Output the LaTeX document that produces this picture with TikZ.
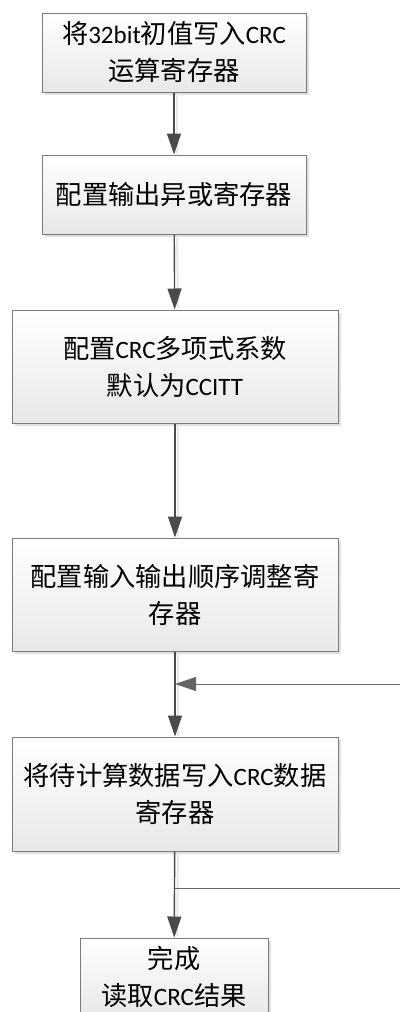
\documentclass[tikz,border=0pt]{standalone}
\usepackage{fontspec}
\setmainfont{Carlito}
\newfontfamily\cjk[Scale=1.05]{Noto Sans CJK SC}
\usetikzlibrary{arrows.meta,shadows}
\definecolor{boxline}{HTML}{7A7A7A}
\definecolor{conn}{HTML}{4A4A4A}
\definecolor{boxbot}{HTML}{E8E8E8}
\tikzset{
  flowbox/.style={draw=boxline, line width=1pt, top color=white, bottom color=boxbot,
    align=center, inner sep=0pt, font=\fontsize{25}{37}\selectfont,
    drop shadow={shadow xshift=3pt, shadow yshift=-3pt, fill=black!12, opacity=1}},
  conline/.style={draw=conn, line width=1.4pt},
  thinline/.style={draw=conn!85, line width=0.9pt},
  arr/.style={-{Triangle[length=21pt,width=14pt]}},
  shline/.style={draw=black!9, line width=2pt},
}
\begin{document}
\begin{tikzpicture}[x=1pt,y=-1pt]
\useasboundingbox (0,0) rectangle (400,1012);
\clip (0,0) rectangle (400,1012);
\node[flowbox, minimum width=264pt, minimum height=79pt] (b1) at (174,52.5)
  {{\cjk 将}32bit{\cjk 初值写入}CRC\\{\cjk 运算寄存器}};
\node[flowbox, minimum width=264pt, minimum height=79pt] (b2) at (174,194.5)
  {{\cjk 配置输出异或寄存器}};
\node[flowbox, minimum width=326pt, minimum height=113pt] (b3) at (175,366.5)
  {{\cjk 配置}CRC{\cjk 多项式系数}\\{\cjk 默认为}CCITT};
\node[flowbox, minimum width=326pt, minimum height=113pt] (b4) at (175,594.5)
  {{\cjk 配置输入输出顺序调整寄}\\{\cjk 存器}};
\node[flowbox, minimum width=326pt, minimum height=114pt] (b5) at (175,794)
  {{\cjk 将待计算数据写入}CRC{\cjk 数据}\\{\cjk 寄存器}};
\node[flowbox, minimum width=188pt, minimum height=78pt] (b6) at (174,977)
  {{\cjk 完成}\\{\cjk 读取}CRC{\cjk 结果}};
\coordinate (j1) at (b4.south |- 0,684);
\coordinate (j2) at (b5.south |- 0,888);
\coordinate (r1) at (400,684);
\coordinate (r2) at (400,888);
% shadows of connectors
\foreach \a/\b in {b1/b2,b2/b3,b3/b4,b4/b5,b5/b6}
  \draw[shline] ([xshift=3pt,yshift=-1pt]\a.south) -- ([xshift=3pt,yshift=1pt]\b.north);
% connectors
\draw[conline, arr] (b1) -- (b2);
\draw[conline, arr] (b2) -- (b3);
\draw[conline, arr] (b3) -- (b4);
\draw[conline, arr] (b4) -- (b5);
\draw[conline, arr] (b5) -- (b6);
\draw[thinline, arr] (r1) -- (j1);
\draw[thinline] (j2) -- (r2);
\end{tikzpicture}
\end{document}
